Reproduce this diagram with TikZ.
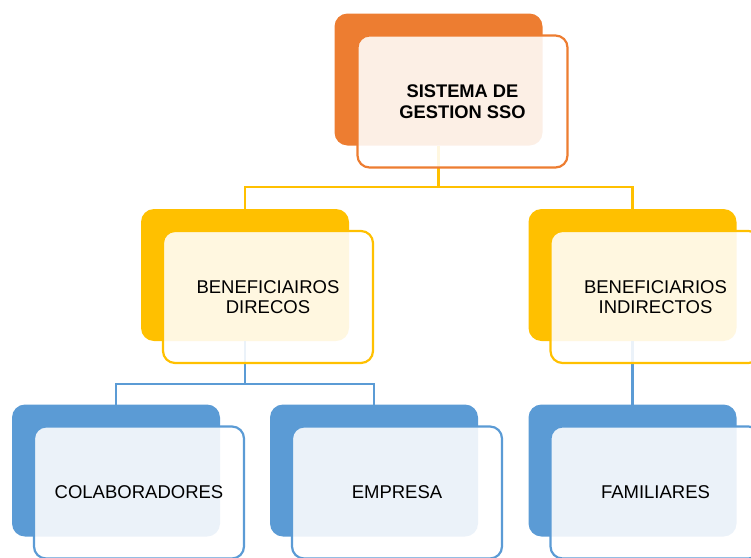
\documentclass[tikz,border=0pt]{standalone}
\usepackage{fontspec}
\setmainfont{Liberation Sans}
\definecolor{orng}{HTML}{ED7D31}
\definecolor{yel}{HTML}{FFC000}
\definecolor{blu}{HTML}{5B9BD5}
\begin{document}
\begin{tikzpicture}[x=1pt,y=-1pt,
  back/.style={rounded corners=13pt, minimum width=208pt, minimum height=132pt, inner sep=0pt, outer sep=0pt},
  front/.style={draw, line width=2.2pt, fill=white, fill opacity=0.88, text opacity=1, rounded corners=12pt,
    minimum width=210pt, minimum height=132pt, inner sep=0pt, outer sep=0pt, align=center,
    font=\fontsize{18.5}{19.5}\selectfont},
  boldtext/.style={font=\fontsize{18.3}{20.5}\selectfont\bfseries},
  conn/.style={line width=2.2pt}]
\clip (0,0) rectangle (751,557);
\useasboundingbox (0,0) rectangle (751,557);
% back boxes
\node[back, fill=orng] (b0) at (438.5,79.5) {};
\node[back, fill=yel] (b1) at (245,275) {};
\node[back, fill=yel] (b2) at (632.5,275) {};
\node[back, fill=blu] (b3) at (116,470.5) {};
\node[back, fill=blu] (b4) at (374,470.5) {};
\node[back, fill=blu] (b5) at (632.5,470.5) {};
% connectors
\coordinate (j0) at (0,187);
\coordinate (j1) at (0,384);
\draw[conn, yel] (b0.south) -- (b0.south |- j0) -| (b1.north);
\draw[conn, yel] (b0.south |- j0) -| (b2.north);
\draw[conn, blu] (b1.south) -- (b1.south |- j1) -| (b3.north);
\draw[conn, blu] (b1.south |- j1) -| (b4.north);
\draw[conn, blu] (b2.south) -- (b5.north);
% front boxes
\node[front, draw=orng, boldtext] (f0) at ([shift={(24,22)}]b0.center) {SISTEMA DE\\GESTION SSO};
\node[front, draw=yel] (f1) at ([shift={(23,22)}]b1.center) {BENEFICIAIROS\\DIRECOS};
\node[front, draw=yel] (f2) at ([shift={(23,22)}]b2.center) {BENEFICIARIOS\\INDIRECTOS};
\node[front, draw=blu] (f3) at ([shift={(23,22)}]b3.center) {COLABORADORES};
\node[front, draw=blu] (f4) at ([shift={(23,22)}]b4.center) {EMPRESA};
\node[front, draw=blu] (f5) at ([shift={(23,22)}]b5.center) {FAMILIARES};
\end{tikzpicture}
\end{document}
